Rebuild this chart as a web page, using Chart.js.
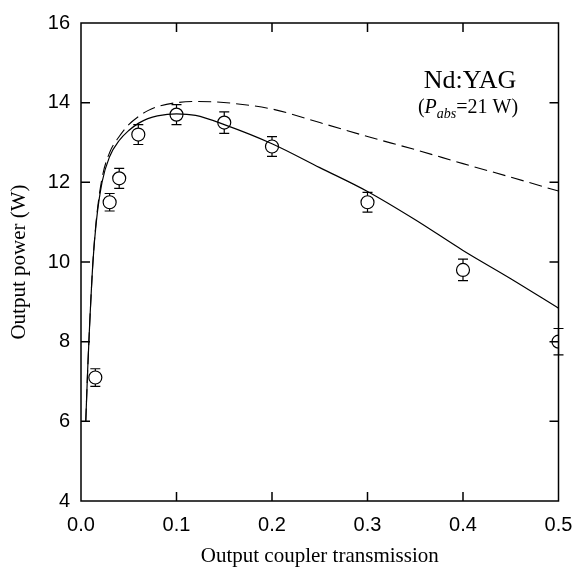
<!DOCTYPE html>
<html>
<head>
<meta charset="utf-8">
<script src="https://cdn.jsdelivr.net/npm/chart.js@4.4.0/dist/chart.umd.min.js"></script>
<style>
  html, body { margin: 0; padding: 0; background: #fff; }
  #wrap { width: 576px; height: 574px; }
</style>
</head>
<body>
<div id="wrap"><canvas id="chart" width="576" height="574"></canvas></div>
<script>
// measured points with error bars
var transmission = [0.015, 0.03, 0.04, 0.06, 0.1, 0.15, 0.2, 0.3, 0.4, 0.5];
var measuredPower = [7.1, 11.5, 12.1, 13.2, 13.7, 13.5, 12.9, 11.5, 9.8, 8.0];
var powerError = [0.22, 0.22, 0.25, 0.25, 0.25, 0.27, 0.25, 0.25, 0.27, 0.33];

// solid curve (fit)
var fitT = [0.005, 0.007, 0.009, 0.0125, 0.016, 0.022, 0.03, 0.04, 0.05, 0.06, 0.07, 0.08, 0.1, 0.12, 0.15, 0.2, 0.25, 0.3, 0.35, 0.4, 0.45, 0.5];
var fitPower = [6.0, 7.3, 8.4, 10.0, 11.0, 12.0, 12.65, 13.05, 13.3, 13.48, 13.6, 13.67, 13.72, 13.68, 13.45, 12.97, 12.37, 11.77, 11.06, 10.29, 9.58, 8.84];

// dashed curve
var theoryT = [0.005, 0.007, 0.009, 0.0125, 0.016, 0.022, 0.03, 0.04, 0.05, 0.06, 0.07, 0.08, 0.1, 0.12, 0.14, 0.16, 0.2, 0.25, 0.3, 0.35, 0.4, 0.45, 0.5];
var theoryPower = [6.0, 7.3, 8.4, 10.0, 11.05, 12.1, 12.75, 13.15, 13.45, 13.65, 13.8, 13.9, 14.0, 14.03, 14.02, 13.98, 13.84, 13.5, 13.15, 12.82, 12.47, 12.13, 11.78];

var xTickMarks = [0.1, 0.2, 0.3, 0.4];
var yTickMarks = [6, 8, 10, 12, 14];

function toPoints(xs, ys) {
  return xs.map(function(x, i) { return { x: x, y: ys[i] }; });
}

var serif = "'Liberation Serif', 'Times New Roman', serif";
var sans = "'Liberation Sans', Arial, sans-serif";

// error bars, drawn under the circles
var errorBars = {
  id: 'errorBars',
  beforeDatasetsDraw: function(chart) {
    var ctx = chart.ctx;
    var xs = chart.scales.x, ys = chart.scales.y;
    ctx.save();
    ctx.strokeStyle = '#000';
    ctx.lineWidth = 1.2;
    transmission.forEach(function(t, i) {
      var px = xs.getPixelForValue(t);
      var top = ys.getPixelForValue(measuredPower[i] + powerError[i]);
      var bot = ys.getPixelForValue(measuredPower[i] - powerError[i]);
      ctx.beginPath();
      ctx.moveTo(px, top); ctx.lineTo(px, bot);
      ctx.moveTo(px - 5, top); ctx.lineTo(px + 5, top);
      ctx.moveTo(px - 5, bot); ctx.lineTo(px + 5, bot);
      ctx.stroke();
    });
    ctx.restore();
  }
};

// box frame, inward ticks and the label text
var frame = {
  id: 'frame',
  afterDraw: function(chart) {
    var ctx = chart.ctx;
    var a = chart.chartArea;
    var xs = chart.scales.x, ys = chart.scales.y;
    ctx.save();
    ctx.strokeStyle = '#000';
    ctx.lineWidth = 1.5;
    ctx.strokeRect(a.left, a.top, a.right - a.left, a.bottom - a.top);
    ctx.beginPath();
    xTickMarks.forEach(function(v) {
      var px = xs.getPixelForValue(v);
      ctx.moveTo(px, a.bottom); ctx.lineTo(px, a.bottom - 9);
      ctx.moveTo(px, a.top); ctx.lineTo(px, a.top + 9);
    });
    yTickMarks.forEach(function(v) {
      var py = ys.getPixelForValue(v);
      ctx.moveTo(a.left, py); ctx.lineTo(a.left + 9, py);
      ctx.moveTo(a.right, py); ctx.lineTo(a.right - 9, py);
    });
    ctx.stroke();

    ctx.fillStyle = '#000';
    ctx.textBaseline = 'alphabetic';
    ctx.textAlign = 'left';
    ctx.font = '26px ' + serif;
    var t1 = 'Nd:YAG';
    var w1 = ctx.measureText(t1).width;
    ctx.fillText(t1, 470 - w1 / 2, 88);

    // (P_abs=21 W)
    var parts = [
      { text: '(', font: '20px ' + serif, dy: 0 },
      { text: 'P', font: 'italic 20px ' + serif, dy: 0 },
      { text: 'abs', font: 'italic 14px ' + serif, dy: 5 },
      { text: '=21 W)', font: '20px ' + serif, dy: 0 }
    ];
    var total = 0;
    parts.forEach(function(p) { ctx.font = p.font; p.w = ctx.measureText(p.text).width; total += p.w; });
    var x = 468 - total / 2;
    parts.forEach(function(p) {
      ctx.font = p.font;
      ctx.fillText(p.text, x, 113 + p.dy);
      x += p.w;
    });
    ctx.restore();
  }
};

new Chart(document.getElementById('chart').getContext('2d'), {
  type: 'scatter',
  data: {
    datasets: [
      {
        label: 'fit',
        data: toPoints(fitT, fitPower),
        showLine: true,
        borderColor: '#000',
        borderWidth: 1.2,
        pointRadius: 0,
        cubicInterpolationMode: 'monotone',
        fill: false
      },
      {
        label: 'theory',
        data: toPoints(theoryT, theoryPower),
        showLine: true,
        borderColor: '#000',
        borderWidth: 1.1,
        borderDash: [13, 6],
        pointRadius: 0,
        cubicInterpolationMode: 'monotone',
        fill: false
      },
      {
        label: 'measured',
        data: toPoints(transmission, measuredPower),
        showLine: false,
        pointStyle: 'circle',
        pointRadius: 6.5,
        pointBorderWidth: 1.2,
        pointBorderColor: '#000',
        pointBackgroundColor: '#fff'
      }
    ]
  },
  options: {
    responsive: false,
    animation: false,
    layout: { padding: { left: 0, right: 17.5, top: 23, bottom: 0 } },
    plugins: {
      legend: { display: false },
      tooltip: { enabled: false }
    },
    scales: {
      x: {
        type: 'linear',
        min: 0,
        max: 0.5,
        grid: { display: false, drawTicks: false },
        border: { display: false },
        ticks: {
          stepSize: 0.1,
          padding: 12,
          color: '#000',
          font: { family: sans, size: 20 },
          maxRotation: 0,
          callback: function(v) { return v.toFixed(1); }
        },
        title: {
          display: true,
          text: 'Output coupler transmission',
          color: '#000',
          font: { family: serif, size: 21 },
          padding: { top: 4, bottom: 5 }
        },
        afterFit: function(scale) {
          scale.height = 73;
          scale.paddingLeft = 0;
          scale.paddingRight = 0;
        }
      },
      y: {
        min: 4,
        max: 16,
        grid: { display: false, drawTicks: false },
        border: { display: false },
        ticks: {
          stepSize: 2,
          padding: 11,
          color: '#000',
          font: { family: sans, size: 20 }
        },
        title: {
          display: true,
          text: 'Output power (W)',
          color: '#000',
          font: { family: serif, size: 21 },
          padding: { top: 7, bottom: 0 }
        },
        afterFit: function(scale) {
          scale.width = 81;
          scale.paddingTop = 0;
          scale.paddingBottom = 0;
        }
      }
    }
  },
  plugins: [errorBars, frame]
});
</script>
</body>
</html>
